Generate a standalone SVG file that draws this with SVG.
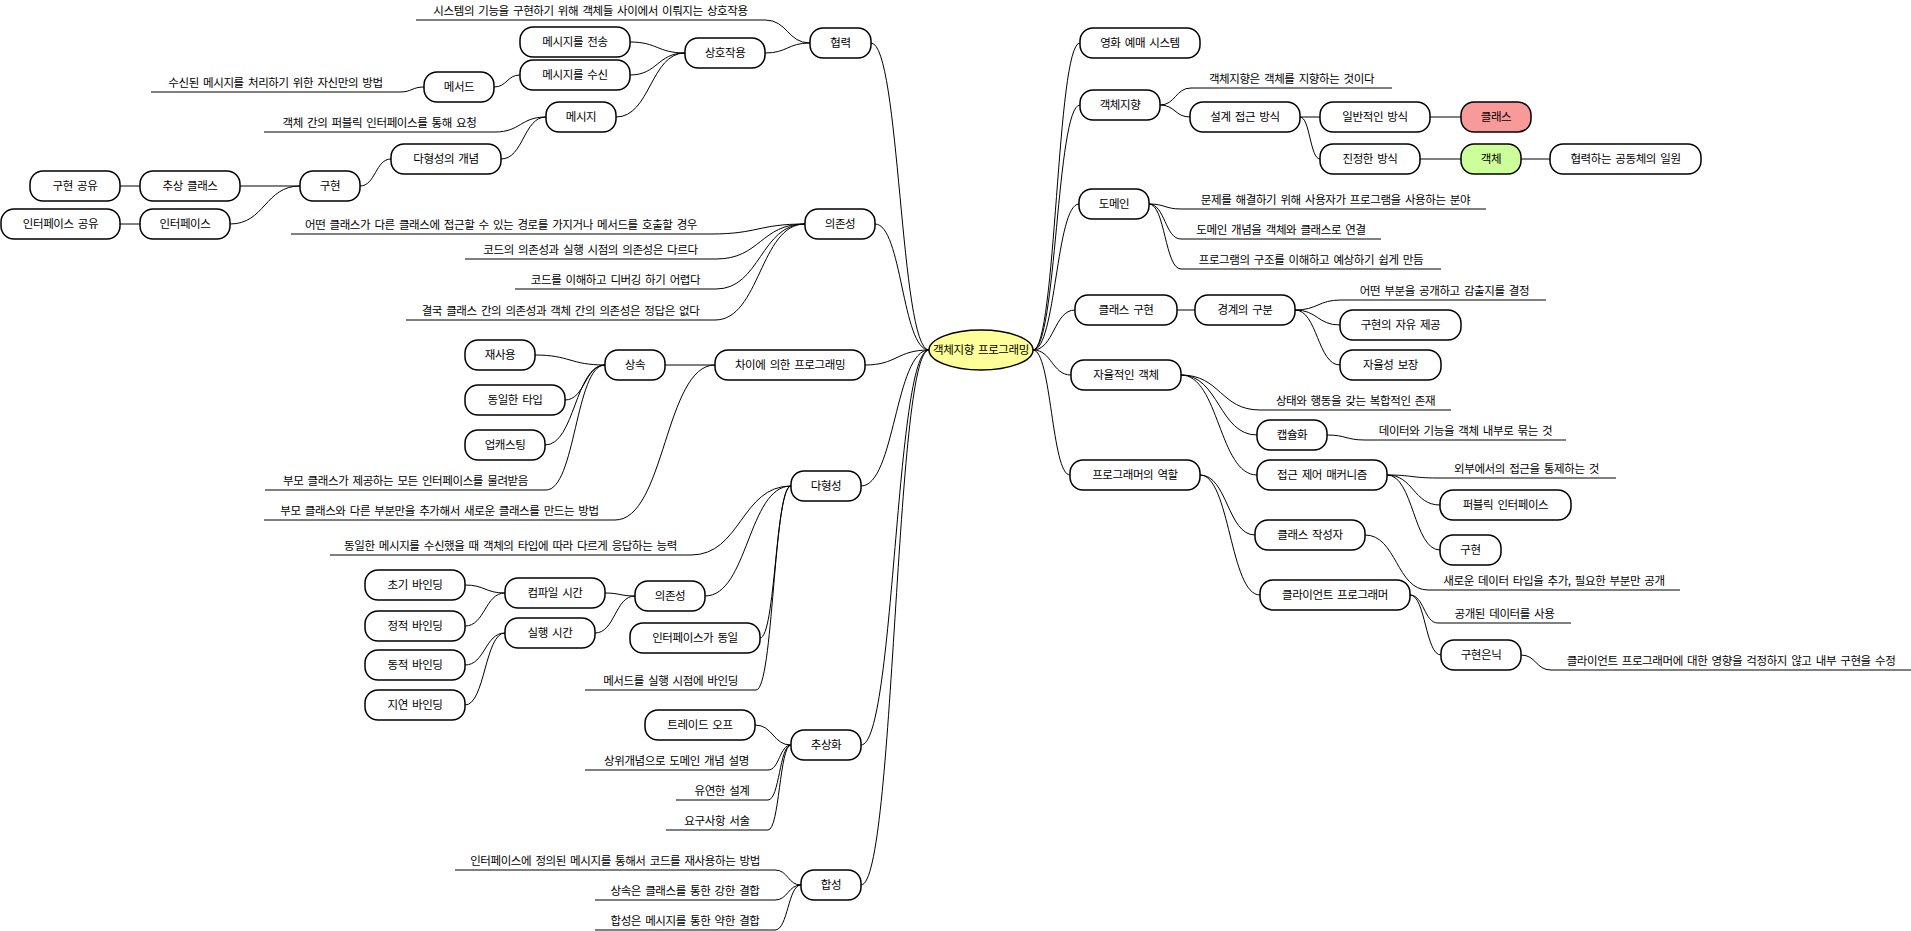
<svg xmlns="http://www.w3.org/2000/svg" width="1911" height="931" viewBox="0 0 1911 931">
<style>
.nd{fill:#fff;stroke:#000;stroke-width:1.5}
.tx{font-family:"Noto Sans CJK KR","Noto Sans CJK SC",sans-serif;font-size:11.5px;letter-spacing:-0.4px;word-spacing:2px;fill:#000;text-anchor:middle}
.ul{stroke:#000;stroke-width:1}
#connectors path{fill:none;stroke:#000;stroke-width:1}
</style>
<rect width="1911" height="931" fill="#fff"/>

<g id="connectors">
<!-- left side: root -->
<path d="M871,43 C900,43 900,350 929,350"/>
<path d="M875,224 C902,224 902,350 929,350"/>
<path d="M865,365 C897,365 897,350 929,350"/>
<path d="M861,486 C895,486 895,350 929,350"/>
<path d="M861,745 C895,745 895,350 929,350"/>
<path d="M861,885 C895,885 895,350 929,350"/>
<!-- collaboration -->
<path d="M765,20 C787.5,20 787.5,43 810,43"/>
<path d="M765,53 C787.5,53 787.5,43 810,43"/>
<path d="M630,42 C657.5,42 657.5,53 685,53"/>
<path d="M630,75 C657.5,75 657.5,53 685,53"/>
<path d="M616,117 C650.5,117 650.5,53 685,53"/>
<path d="M494,87 C507,87 507,75 520,75"/>
<path d="M400,92 C412,92 412,87 424,87"/>
<path d="M495,132 C520.5,132 520.5,117 546,117"/>
<path d="M501,159 C523.5,159 523.5,117 546,117"/>
<path d="M360,186 C375.5,186 375.5,159 391,159"/>
<path d="M240,186 L300,186"/>
<path d="M230,224 C265,224 265,186 300,186"/>
<path d="M120,186 L140,186"/>
<path d="M120,224 L140,224"/>
<!-- dependency -->
<path d="M711,234 C758,234 758,224 805,224"/>
<path d="M716,259 C760.5,259 760.5,224 805,224"/>
<path d="M716,289 C760.5,289 760.5,224 805,224"/>
<path d="M715,320 C760,320 760,224 805,224"/>
<!-- programming by difference -->
<path d="M665,365 L715,365"/>
<path d="M615,520 C665,520 665,365 715,365"/>
<path d="M535,355 C570,355 570,365 605,365"/>
<path d="M565,400 C585,400 585,365 605,365"/>
<path d="M545,445 C575,445 575,365 605,365"/>
<path d="M546,490 C575.5,490 575.5,365 605,365"/>
<!-- polymorphism -->
<path d="M691,555 C741,555 741,486 791,486"/>
<path d="M705,596 C748,596 748,486 791,486"/>
<path d="M760,638 C775.5,638 775.5,486 791,486"/>
<path d="M756,690 C773.5,690 773.5,486 791,486"/>
<path d="M605,593 C620,593 620,596 635,596"/>
<path d="M595,633 C615,633 615,596 635,596"/>
<path d="M465,585 C485,585 485,593 505,593"/>
<path d="M465,626 C485,626 485,593 505,593"/>
<path d="M465,665 C485,665 485,633 505,633"/>
<path d="M465,705 C485,705 485,633 505,633"/>
<!-- abstraction -->
<path d="M755,725 C773,725 773,745 791,745"/>
<path d="M768,770 C779.5,770 779.5,745 791,745"/>
<path d="M768,800 C779.5,800 779.5,745 791,745"/>
<path d="M768,830 C779.5,830 779.5,745 791,745"/>
<!-- composition -->
<path d="M775,870 C788,870 788,885 801,885"/>
<path d="M775,900 C788,900 788,885 801,885"/>
<path d="M775,930 C788,930 788,885 801,885"/>

<!-- right side: root -->
<path d="M1033,350 C1056.5,350 1056.5,43 1080,43"/>
<path d="M1033,350 C1056.5,350 1056.5,105 1080,105"/>
<path d="M1033,350 C1056,350 1056,204 1079,204"/>
<path d="M1033,350 C1054,350 1054,310 1075,310"/>
<path d="M1033,350 C1052,350 1052,375 1071,375"/>
<path d="M1033,350 C1051.5,350 1051.5,475 1070,475"/>
<!-- object orientation -->
<path d="M1160,105 C1175.5,105 1175.5,88 1191,88"/>
<path d="M1160,105 C1175,105 1175,117 1190,117"/>
<path d="M1300,117 L1320,117"/>
<path d="M1300,117 C1310,117 1310,159 1320,159"/>
<path d="M1430,117 L1461,117"/>
<path d="M1420,159 L1461,159"/>
<path d="M1521,159 L1550,159"/>
<!-- domain -->
<path d="M1149,204 C1165,204 1165,209 1181,209"/>
<path d="M1149,204 C1165,204 1165,239 1181,239"/>
<path d="M1149,204 C1165,204 1165,269 1181,269"/>
<!-- class implementation -->
<path d="M1177,310 L1195,310"/>
<path d="M1295,310 C1318,310 1318,300 1341,300"/>
<path d="M1295,310 C1317.5,310 1317.5,325 1340,325"/>
<path d="M1295,310 C1317.5,310 1317.5,365 1340,365"/>
<!-- autonomous object -->
<path d="M1181,375 C1220.5,375 1220.5,410 1260,410"/>
<path d="M1181,375 C1219,375 1219,435 1257,435"/>
<path d="M1181,375 C1219,375 1219,475 1257,475"/>
<path d="M1327,435 C1346,435 1346,440 1365,440"/>
<path d="M1387,475 C1412,475 1412,478 1437,478"/>
<path d="M1387,475 C1413.5,475 1413.5,505 1440,505"/>
<path d="M1387,475 C1413.5,475 1413.5,550 1440,550"/>
<!-- programmer roles -->
<path d="M1200,475 C1227.5,475 1227.5,535 1255,535"/>
<path d="M1200,475 C1230,475 1230,595 1260,595"/>
<path d="M1365,535 C1396.5,535 1396.5,590 1428,590"/>
<path d="M1410,595 C1424,595 1424,623 1438,623"/>
<path d="M1410,595 C1425.5,595 1425.5,655 1441,655"/>
<path d="M1521,655 C1536,655 1536,670 1551,670"/>
</g>

<!-- root -->
<g id="root">
<ellipse cx="981" cy="350" rx="52" ry="20" fill="#FFFF99" stroke="#000" stroke-width="1.5"/>
<text class="tx" x="981" y="354">객체지향 프로그래밍</text>
</g>

<!-- left branches -->
<g id="collaboration"><rect class="nd" x="810" y="28" width="61" height="30" rx="13"/><text class="tx" x="840.5" y="47">협력</text></g>
<g id="collab-desc"><text class="tx" x="590.5" y="14.5">시스템의 기능을 구현하기 위해 객체들 사이에서 이뤄지는 상호작용</text><line class="ul" x1="416" y1="20" x2="765" y2="20"/></g>
<g id="interaction"><rect class="nd" x="685" y="38" width="80" height="30" rx="13"/><text class="tx" x="725" y="57">상호작용</text></g>
<g id="msg-send"><rect class="nd" x="520" y="27" width="110" height="30" rx="13"/><text class="tx" x="575" y="46">메시지를 전송</text></g>
<g id="msg-recv"><rect class="nd" x="520" y="60" width="110" height="30" rx="13"/><text class="tx" x="575" y="79">메시지를 수신</text></g>
<g id="method"><rect class="nd" x="424" y="72" width="70" height="30" rx="13"/><text class="tx" x="459" y="91">메서드</text></g>
<g id="method-desc"><text class="tx" x="275.5" y="86.5">수신된 메시지를 처리하기 위한 자신만의 방법</text><line class="ul" x1="151" y1="92" x2="400" y2="92"/></g>
<g id="message"><rect class="nd" x="546" y="102" width="70" height="30" rx="13"/><text class="tx" x="581" y="121">메시지</text></g>
<g id="message-desc"><text class="tx" x="379.5" y="126.5">객체 간의 퍼블릭 인터페이스를 통해 요청</text><line class="ul" x1="264" y1="132" x2="495" y2="132"/></g>
<g id="poly-concept"><rect class="nd" x="391" y="144" width="110" height="30" rx="13"/><text class="tx" x="446" y="163">다형성의 개념</text></g>
<g id="impl-left"><rect class="nd" x="300" y="171" width="60" height="30" rx="13"/><text class="tx" x="330" y="190">구현</text></g>
<g id="abstract-class"><rect class="nd" x="140" y="171" width="100" height="30" rx="13"/><text class="tx" x="190" y="190">추상 클래스</text></g>
<g id="impl-share"><rect class="nd" x="30" y="171" width="90" height="30" rx="13"/><text class="tx" x="75" y="190">구현 공유</text></g>
<g id="interface"><rect class="nd" x="140" y="209" width="90" height="30" rx="13"/><text class="tx" x="185" y="228">인터페이스</text></g>
<g id="interface-share"><rect class="nd" x="1" y="209" width="119" height="30" rx="13"/><text class="tx" x="60.5" y="228">인터페이스 공유</text></g>

<g id="dependency"><rect class="nd" x="805" y="209" width="70" height="30" rx="13"/><text class="tx" x="840" y="228">의존성</text></g>
<g id="dep-1"><text class="tx" x="501" y="228.5">어떤 클래스가 다른 클래스에 접근할 수 있는 경로를 가지거나 메서드를 호출할 경우</text><line class="ul" x1="291" y1="234" x2="711" y2="234"/></g>
<g id="dep-2"><text class="tx" x="590.5" y="253.5">코드의 의존성과 실행 시점의 의존성은 다르다</text><line class="ul" x1="465" y1="259" x2="716" y2="259"/></g>
<g id="dep-3"><text class="tx" x="615.5" y="283.5">코드를 이해하고 디버깅 하기 어렵다</text><line class="ul" x1="515" y1="289" x2="716" y2="289"/></g>
<g id="dep-4"><text class="tx" x="560.5" y="314.5">결국 클래스 간의 의존성과 객체 간의 의존성은 정답은 없다</text><line class="ul" x1="406" y1="320" x2="715" y2="320"/></g>

<g id="prog-by-diff"><rect class="nd" x="715" y="350" width="150" height="30" rx="13"/><text class="tx" x="790" y="369">차이에 의한 프로그래밍</text></g>
<g id="inheritance"><rect class="nd" x="605" y="350" width="60" height="30" rx="13"/><text class="tx" x="635" y="369">상속</text></g>
<g id="reuse"><rect class="nd" x="465" y="340" width="70" height="30" rx="13"/><text class="tx" x="500" y="359">재사용</text></g>
<g id="same-type"><rect class="nd" x="465" y="385" width="100" height="30" rx="13"/><text class="tx" x="515" y="404">동일한 타입</text></g>
<g id="upcasting"><rect class="nd" x="465" y="430" width="80" height="30" rx="13"/><text class="tx" x="505" y="449">업캐스팅</text></g>
<g id="inherit-desc"><text class="tx" x="405.5" y="484.5">부모 클래스가 제공하는 모든 인터페이스를 물려받음</text><line class="ul" x1="265" y1="490" x2="546" y2="490"/></g>
<g id="diff-desc"><text class="tx" x="439.5" y="514.5">부모 클래스와 다른 부분만을 추가해서 새로운 클래스를 만드는 방법</text><line class="ul" x1="264" y1="520" x2="615" y2="520"/></g>

<g id="polymorphism"><rect class="nd" x="791" y="471" width="70" height="30" rx="13"/><text class="tx" x="826" y="490">다형성</text></g>
<g id="poly-desc"><text class="tx" x="510.5" y="549.5">동일한 메시지를 수신했을 때 객체의 타입에 따라 다르게 응답하는 능력</text><line class="ul" x1="330" y1="555" x2="691" y2="555"/></g>
<g id="poly-dependency"><rect class="nd" x="635" y="581" width="70" height="30" rx="13"/><text class="tx" x="670" y="600">의존성</text></g>
<g id="compile-time"><rect class="nd" x="505" y="578" width="100" height="30" rx="13"/><text class="tx" x="555" y="597">컴파일 시간</text></g>
<g id="run-time"><rect class="nd" x="505" y="618" width="90" height="30" rx="13"/><text class="tx" x="550" y="637">실행 시간</text></g>
<g id="early-binding"><rect class="nd" x="365" y="570" width="100" height="30" rx="13"/><text class="tx" x="415" y="589">초기 바인딩</text></g>
<g id="static-binding"><rect class="nd" x="365" y="611" width="100" height="30" rx="13"/><text class="tx" x="415" y="630">정적 바인딩</text></g>
<g id="dynamic-binding"><rect class="nd" x="365" y="650" width="100" height="30" rx="13"/><text class="tx" x="415" y="669">동적 바인딩</text></g>
<g id="late-binding"><rect class="nd" x="365" y="690" width="100" height="30" rx="13"/><text class="tx" x="415" y="709">지연 바인딩</text></g>
<g id="same-interface"><rect class="nd" x="630" y="623" width="130" height="30" rx="13"/><text class="tx" x="695" y="642">인터페이스가 동일</text></g>
<g id="runtime-binding"><text class="tx" x="670.5" y="684.5">메서드를 실행 시점에 바인딩</text><line class="ul" x1="585" y1="690" x2="756" y2="690"/></g>

<g id="abstraction"><rect class="nd" x="791" y="730" width="70" height="30" rx="13"/><text class="tx" x="826" y="749">추상화</text></g>
<g id="trade-off"><rect class="nd" x="645" y="710" width="110" height="30" rx="13"/><text class="tx" x="700" y="729">트레이드 오프</text></g>
<g id="abs-1"><text class="tx" x="676.5" y="764.5">상위개념으로 도메인 개념 설명</text><line class="ul" x1="585" y1="770" x2="768" y2="770"/></g>
<g id="abs-2"><text class="tx" x="722" y="794.5">유연한 설계</text><line class="ul" x1="676" y1="800" x2="768" y2="800"/></g>
<g id="abs-3"><text class="tx" x="717" y="824.5">요구사항 서술</text><line class="ul" x1="666" y1="830" x2="768" y2="830"/></g>

<g id="composition"><rect class="nd" x="801" y="870" width="60" height="30" rx="13"/><text class="tx" x="831" y="889">합성</text></g>
<g id="comp-1"><text class="tx" x="615" y="864.5">인터페이스에 정의된 메시지를 통해서 코드를 재사용하는 방법</text><line class="ul" x1="455" y1="870" x2="775" y2="870"/></g>
<g id="comp-2"><text class="tx" x="685" y="894.5">상속은 클래스를 통한 강한 결합</text><line class="ul" x1="595" y1="900" x2="775" y2="900"/></g>
<g id="comp-3"><text class="tx" x="685" y="924.5">합성은 메시지를 통한 약한 결합</text><line class="ul" x1="595" y1="930" x2="775" y2="930"/></g>

<!-- right branches -->
<g id="movie-system"><rect class="nd" x="1080" y="28" width="120" height="30" rx="13"/><text class="tx" x="1140" y="47">영화 예매 시스템</text></g>
<g id="oo"><rect class="nd" x="1080" y="90" width="80" height="30" rx="13"/><text class="tx" x="1120" y="109">객체지향</text></g>
<g id="oo-desc"><text class="tx" x="1291.5" y="82.5">객체지향은 객체를 지향하는 것이다</text><line class="ul" x1="1191" y1="88" x2="1392" y2="88"/></g>
<g id="design-approach"><rect class="nd" x="1190" y="102" width="110" height="30" rx="13"/><text class="tx" x="1245" y="121">설계 접근 방식</text></g>
<g id="common-way"><rect class="nd" x="1320" y="102" width="110" height="30" rx="13"/><text class="tx" x="1375" y="121">일반적인 방식</text></g>
<g id="class"><rect x="1461" y="102" width="70" height="30" rx="13" fill="#F99A9A" stroke="#000" stroke-width="1.5"/><text class="tx" x="1496" y="121">클래스</text></g>
<g id="true-way"><rect class="nd" x="1320" y="144" width="100" height="30" rx="13"/><text class="tx" x="1370" y="163">진정한 방식</text></g>
<g id="object"><rect x="1461" y="144" width="60" height="30" rx="13" fill="#CCFF99" stroke="#000" stroke-width="1.5"/><text class="tx" x="1491" y="163">객체</text></g>
<g id="community-member"><rect class="nd" x="1550" y="144" width="151" height="30" rx="13"/><text class="tx" x="1625.5" y="163">협력하는 공동체의 일원</text></g>

<g id="domain"><rect class="nd" x="1079" y="189" width="70" height="30" rx="13"/><text class="tx" x="1114" y="208">도메인</text></g>
<g id="domain-1"><text class="tx" x="1335.5" y="203.5">문제를 해결하기 위해 사용자가 프로그램을 사용하는 분야</text><line class="ul" x1="1181" y1="209" x2="1486" y2="209"/></g>
<g id="domain-2"><text class="tx" x="1281" y="233.5">도메인 개념을 객체와 클래스로 연결</text><line class="ul" x1="1181" y1="239" x2="1381" y2="239"/></g>
<g id="domain-3"><text class="tx" x="1311" y="263.5">프로그램의 구조를 이해하고 예상하기 쉽게 만듬</text><line class="ul" x1="1181" y1="269" x2="1441" y2="269"/></g>

<g id="class-impl"><rect class="nd" x="1075" y="295" width="102" height="30" rx="13"/><text class="tx" x="1126" y="314">클래스 구현</text></g>
<g id="boundary"><rect class="nd" x="1195" y="295" width="100" height="30" rx="13"/><text class="tx" x="1245" y="314">경계의 구분</text></g>
<g id="boundary-desc"><text class="tx" x="1444.5" y="294.5">어떤 부분을 공개하고 감출지를 결정</text><line class="ul" x1="1341" y1="300" x2="1546" y2="300"/></g>
<g id="impl-freedom"><rect class="nd" x="1340" y="310" width="121" height="30" rx="13"/><text class="tx" x="1400.5" y="329">구현의 자유 제공</text></g>
<g id="autonomy"><rect class="nd" x="1340" y="350" width="101" height="30" rx="13"/><text class="tx" x="1390.5" y="369">자율성 보장</text></g>

<g id="autonomous-object"><rect class="nd" x="1071" y="360" width="110" height="30" rx="13"/><text class="tx" x="1126" y="379">자율적인 객체</text></g>
<g id="auto-desc"><text class="tx" x="1355.5" y="404.5">상태와 행동을 갖는 복합적인 존재</text><line class="ul" x1="1260" y1="410" x2="1451" y2="410"/></g>
<g id="encapsulation"><rect class="nd" x="1257" y="420" width="70" height="30" rx="13"/><text class="tx" x="1292" y="439">캡슐화</text></g>
<g id="encap-desc"><text class="tx" x="1465.5" y="434.5">데이터와 기능을 객체 내부로 묶는 것</text><line class="ul" x1="1365" y1="440" x2="1566" y2="440"/></g>
<g id="access-control"><rect class="nd" x="1257" y="460" width="130" height="30" rx="13"/><text class="tx" x="1322" y="479">접근 제어 매커니즘</text></g>
<g id="access-desc"><text class="tx" x="1526.5" y="472.5">외부에서의 접근을 통제하는 것</text><line class="ul" x1="1437" y1="478" x2="1616" y2="478"/></g>
<g id="public-interface"><rect class="nd" x="1440" y="490" width="131" height="30" rx="13"/><text class="tx" x="1505.5" y="509">퍼블릭 인터페이스</text></g>
<g id="impl-right"><rect class="nd" x="1440" y="535" width="61" height="30" rx="13"/><text class="tx" x="1470.5" y="554">구현</text></g>

<g id="programmer-role"><rect class="nd" x="1070" y="460" width="130" height="30" rx="13"/><text class="tx" x="1135" y="479">프로그래머의 역할</text></g>
<g id="class-creator"><rect class="nd" x="1255" y="520" width="110" height="30" rx="13"/><text class="tx" x="1310" y="539">클래스 작성자</text></g>
<g id="creator-desc"><text class="tx" x="1554" y="584.5">새로운 데이터 타입을 추가, 필요한 부분만 공개</text><line class="ul" x1="1428" y1="590" x2="1680" y2="590"/></g>
<g id="client-programmer"><rect class="nd" x="1260" y="580" width="150" height="30" rx="13"/><text class="tx" x="1335" y="599">클라이언트 프로그래머</text></g>
<g id="client-desc"><text class="tx" x="1504.5" y="617.5">공개된 데이터를 사용</text><line class="ul" x1="1438" y1="623" x2="1571" y2="623"/></g>
<g id="impl-hiding"><rect class="nd" x="1441" y="640" width="80" height="30" rx="13"/><text class="tx" x="1481" y="659">구현은닉</text></g>
<g id="hiding-desc"><text class="tx" x="1731" y="664.5">클라이언트 프로그래머에 대한 영향을 걱정하지 않고 내부 구현을 수정</text><line class="ul" x1="1551" y1="670" x2="1911" y2="670"/></g>
</svg>
